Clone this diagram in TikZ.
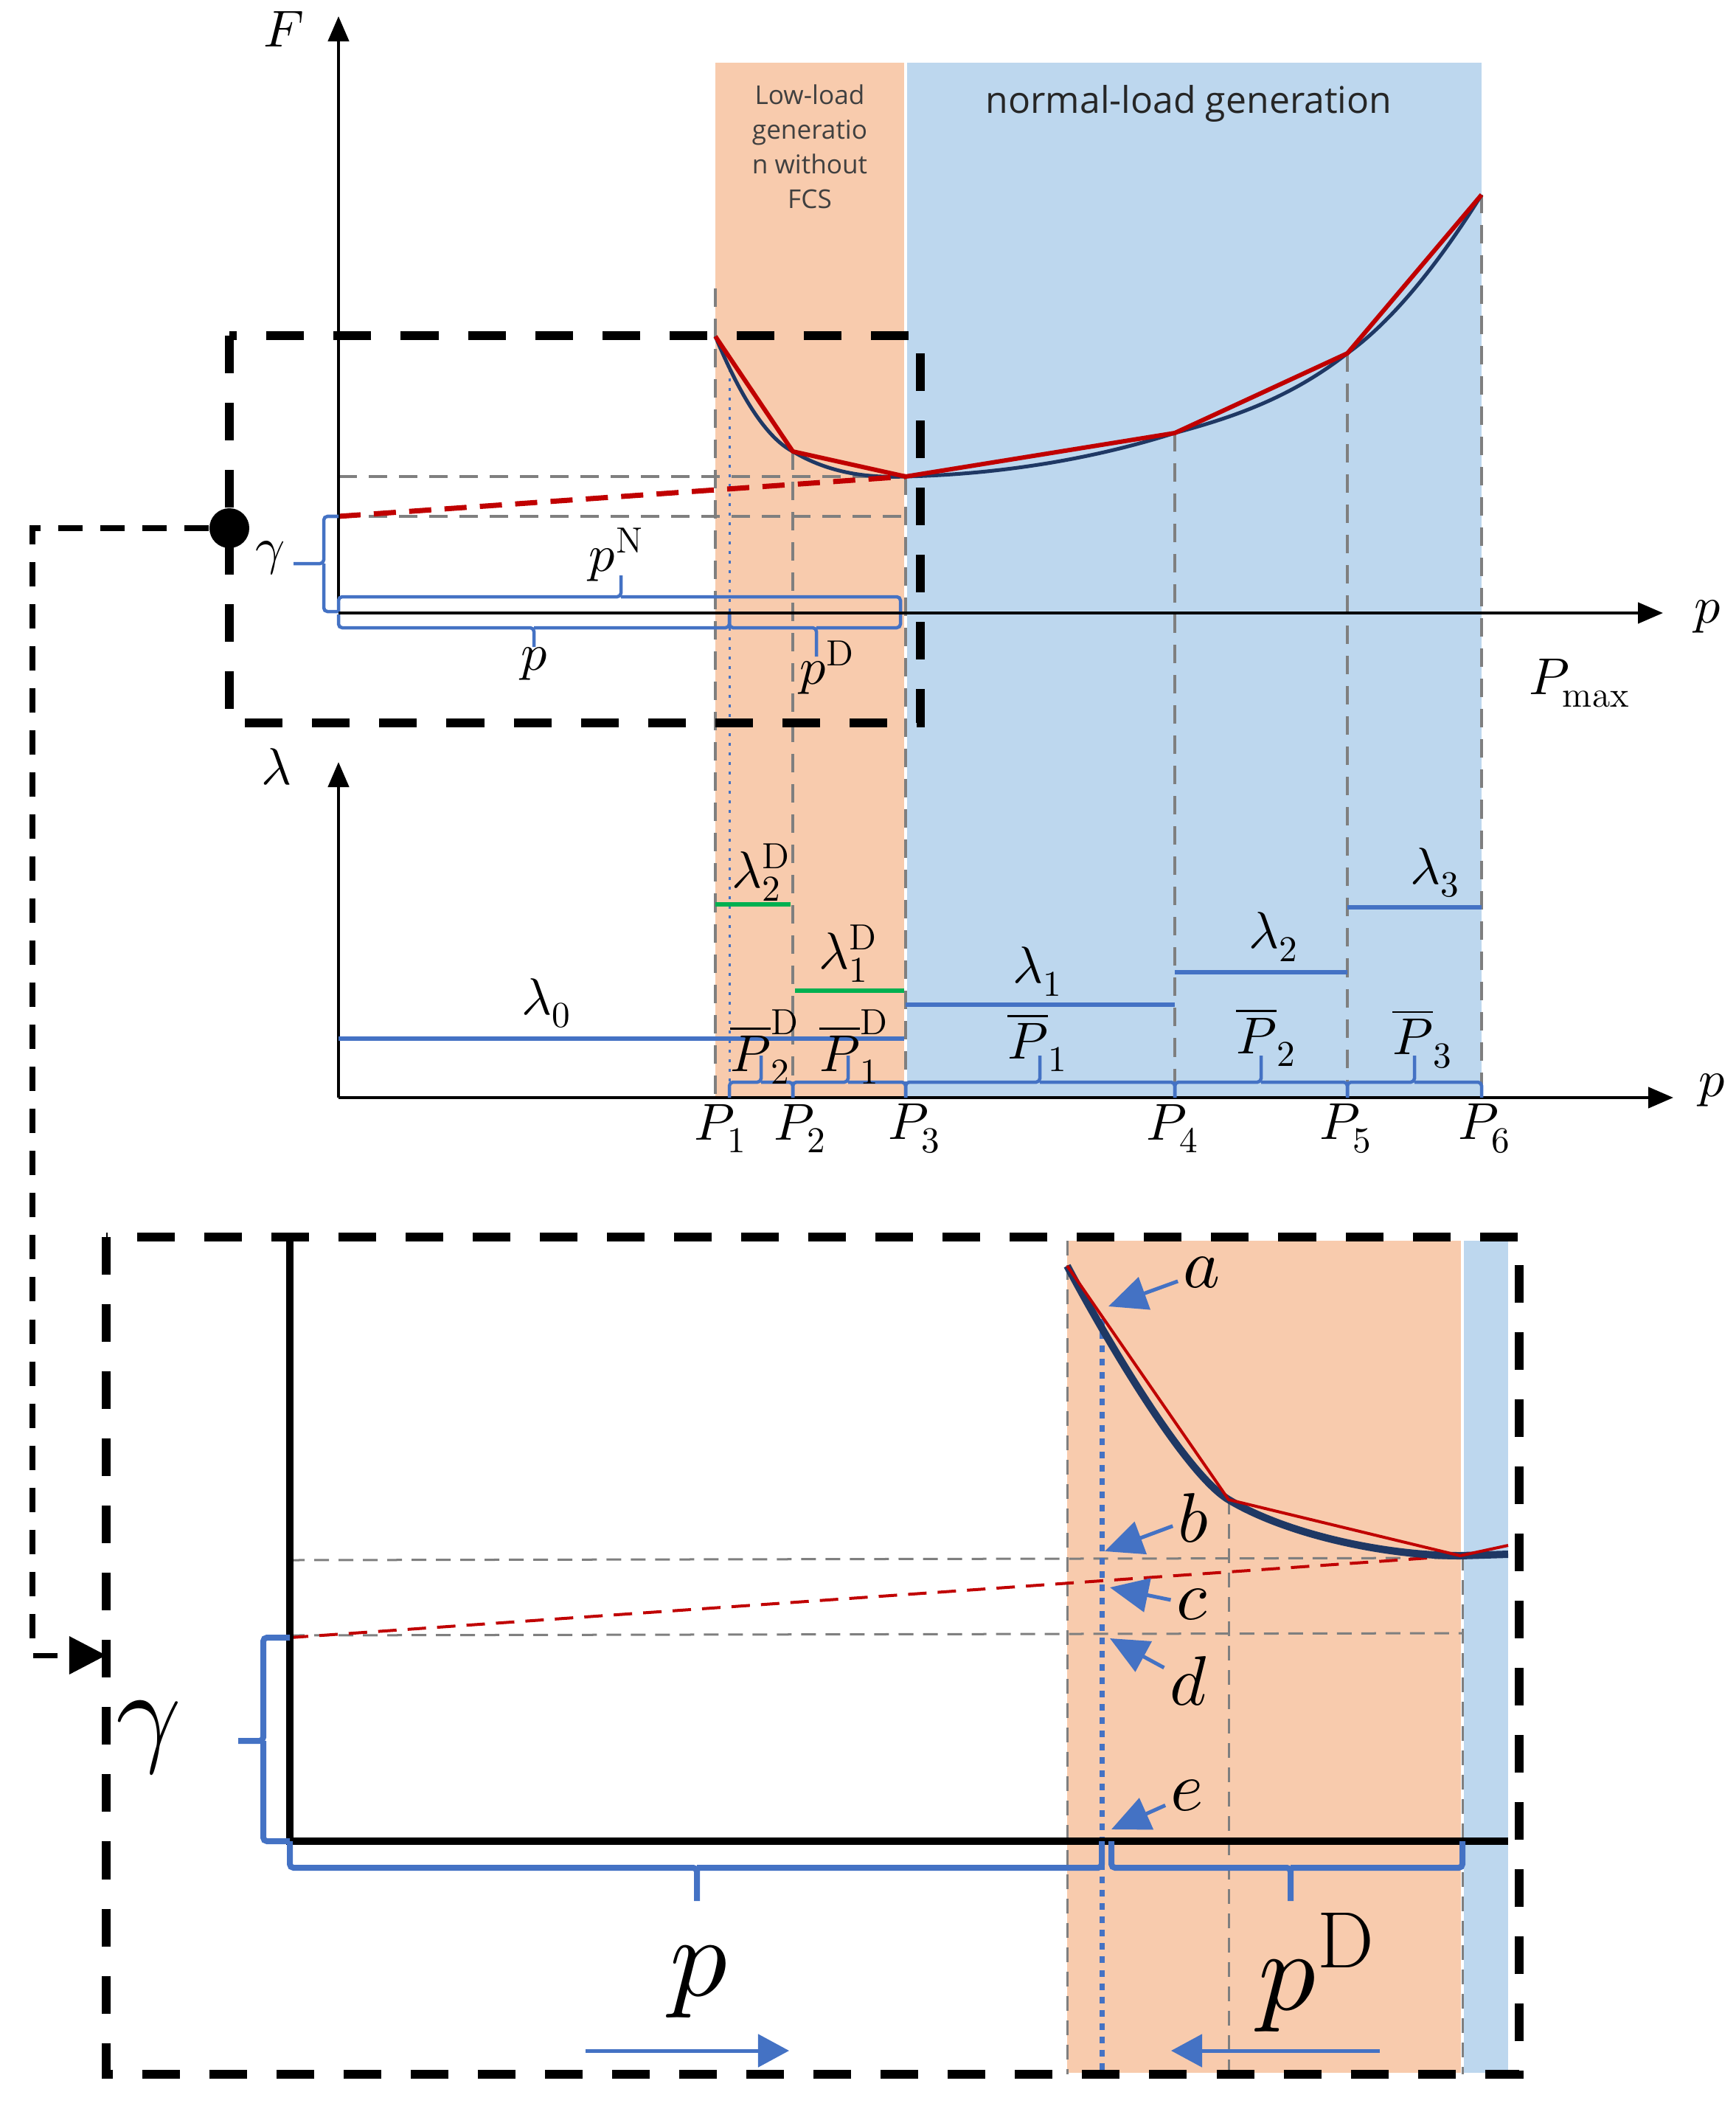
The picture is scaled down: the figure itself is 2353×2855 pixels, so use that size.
\documentclass[tikz,border=0pt]{standalone}
\usepackage{fontspec}
\usepackage{unicode-math}
\newfontfamily\regionfont{Open Sans}
\usetikzlibrary{arrows.meta,positioning}
\definecolor{lowload}{HTML}{F8CBAD}
\definecolor{normalload}{HTML}{BDD7EE}
\definecolor{markblue}{HTML}{4472C4}
\definecolor{chordred}{HTML}{C00000}
\definecolor{costnavy}{HTML}{1F3864}
\definecolor{dualgreen}{HTML}{00B050}
\definecolor{guidegray}{HTML}{7F7F7F}
\tikzset{
    axisline/.style={line width=0.045cm, -{Triangle[length=0.34cm,width=0.28cm]}},
    inaxis/.style={line width=0.1cm},
    guide/.style={guidegray, line width=0.045cm, dash pattern=on 0.25cm off 0.16cm},
    fineguide/.style={guidegray, line width=0.03cm, dash pattern=on 0.2cm off 0.13cm},
    zoomframe/.style={line width=0.12cm, dash pattern=on 0.51cm off 0.40cm},
    link/.style={line width=0.07cm, dash pattern=on 0.33cm off 0.24cm, -{Triangle[length=0.5cm,width=0.5cm]}},
    chord/.style={chordred, line width=0.06cm, line join=round},
    chorddash/.style={chordred, line width=0.07cm, dash pattern=on 0.3cm off 0.18cm},
    cost/.style={costnavy, line width=0.05cm},
    pmark/.style={markblue, line width=0.03cm, dash pattern=on 0.04cm off 0.09cm},
    price/.style={markblue, line width=0.06cm},
    dprice/.style={dualgreen, line width=0.06cm},
    brk/.style={markblue, line width=0.045cm, rounded corners=0.05cm},
    callout/.style={markblue, line width=0.05cm, -{Triangle[length=0.52cm,width=0.46cm]}},
    lbl/.style={inner sep=1pt, font=\fontsize{20}{23}\selectfont},
    ptlbl/.style={inner sep=2pt, font=\fontsize{27}{30}\selectfont},
    biglbl/.style={inner sep=1pt, font=\fontsize{44}{50}\selectfont},
    hub/.style={circle, fill, inner sep=0pt, minimum size=0.54cm}
}
\begin{document}
\begin{tikzpicture}[x=0.01cm,y=-0.01cm]
\useasboundingbox (0,0) rectangle (2353,2855);
% breakpoints of the cost curve
\coordinate (O1) at (459,831);
\coordinate (O2) at (459,1488);
\coordinate (G0) at (459,700);
\coordinate (K1) at (970,456);
\coordinate (K2) at (1075,612);
\coordinate (K3) at (1228,646);
\coordinate (K4) at (1593,587);
\coordinate (K5) at (1827,479);
\coordinate (K6) at (2009,264);
% operating regions
\fill[lowload] (970,85) rectangle (1226,1488);
\fill[normalload] (1230,85) rectangle (2009,1488);
\node[align=center, text=black!75, font=\regionfont\fontsize{10}{13.4}\selectfont] (lowtxt) at (1098,199) {Low-load\\generatio\\n without\\FCS};
\node[text=black!85, font=\regionfont\fontsize{14.2}{16}\selectfont] (normtxt) at (1612,141) {normal-load generation};
% guide lines
\draw[guide] (970,391) -- (K1 |- O2);
\draw[guide] (K2) -- (K2 |- O2);
\draw[guide] (K3) -- (K3 |- O2);
\draw[guide] (K4) -- (K4 |- O2);
\draw[guide] (K5) -- (K5 |- O2);
\draw[guide] (K6) -- (K6 |- O2);
\draw[guide] (O1 |- K3) -- (K3);
\draw[guide] (G0) -- (K3 |- G0);
\draw[pmark] (989,500) -- (989,1488);
% cost curve and its linearisation
\draw[cost] (K1) .. controls (1005,540) and (1040,594) .. (K2) .. controls (1125,642) and (1178,648) .. (K3) .. controls (1348,643) and (1473,625) .. (K4) .. controls (1671,566) and (1749,540) .. (K5) .. controls (1887,436) and (1949,360) .. (K6);
\draw[chord] (K1) -- (K2) -- (K3) -- (K4) -- (K5) -- (K6);
\draw[chorddash] (G0) -- (K3);
% F axes
\draw[axisline] (O1) -- (2255,831);
\draw[axisline] (O1) -- (459,22);
\node[lbl] (Flab) at (385,40) {$F$};
\node[lbl] (pax1) at (2316,836) {$p$};
\node[lbl] (pmax) at (2142,926) {$P_{\max}$};
% brackets of the top chart
\draw[brk] (459,829) |- (842,809) -- (842,780) (842,809) -| (1221,829);
\draw[brk] (459,833) |- (724,851) -- (724,877) (724,851) -| (989,833);
\draw[brk] (989,833) |- (1107,851) -- (1107,890) (1107,851) -| (1221,833);
\draw[brk] (459,700) -| (439,764) -- (398,764) (439,764) |- (459,829);
\node[lbl] (gam1) at (367,757) {$\gamma$};
\node[lbl] (pN) at (836,752) {$p^{\mathrm{N}}$};
\node[lbl] (p1) at (725,900) {$p$};
\node[lbl] (pD1) at (1122,905) {$p^{\mathrm{D}}$};
% lambda axes
\draw[axisline] (O2) -- (2269,1488);
\draw[axisline] (O2) -- (459,1033);
\node[lbl] (lamlab) at (375,1040) {$\lambda$};
\node[lbl] (pax2) at (2322,1478) {$p$};
% prices
\draw[price] (459,1408) -- (1226,1408);
\draw[dprice] (970,1226) -- (1072,1226);
\draw[dprice] (1078,1343) -- (1226,1343);
\draw[price] (1228,1362) -- (1593,1362);
\draw[price] (1593,1318) -- (1827,1318);
\draw[price] (1827,1230) -- (2009,1230);
\node[lbl] (lam0) at (741,1360) {$\lambda_0$};
\node[lbl] (lamD2) at (1032,1183) {$\lambda^{\mathrm{D}}_2$};
\node[lbl] (lamD1) at (1150,1293) {$\lambda^{\mathrm{D}}_1$};
\node[lbl] (lam1) at (1407,1317) {$\lambda_1$};
\node[lbl] (lam2) at (1727,1270) {$\lambda_2$};
\node[lbl] (lam3) at (1946,1183) {$\lambda_3$};
% segment brackets
\draw[brk] (989,1488) |- (1032,1467) -- (1032,1431) (1032,1467) -| (1075,1488);
\draw[brk] (1075,1488) |- (1150,1467) -- (1150,1431) (1150,1467) -| (1228,1488);
\draw[brk] (1228,1488) |- (1410,1467) -- (1410,1431) (1410,1467) -| (1593,1488);
\draw[brk] (1593,1488) |- (1710,1467) -- (1710,1431) (1710,1467) -| (1827,1488);
\draw[brk] (1827,1488) |- (1918,1467) -- (1918,1431) (1918,1467) -| (2009,1488);
\node[lbl] (PbD2) at (1037,1419) {$\overline{P}^{\mathrm{D}}_2$};
\node[lbl] (PbD1) at (1158,1419) {$\overline{P}^{\mathrm{D}}_1$};
\node[lbl] (Pb1) at (1407,1413) {$\overline{P}_1$};
\node[lbl] (Pb2) at (1717,1406) {$\overline{P}_2$};
\node[lbl] (Pb3) at (1929,1408) {$\overline{P}_3$};
\node[lbl] (P1) at (977,1530) {$P_1$};
\node[lbl] (P2) at (1085,1530) {$P_2$};
\node[lbl] (P3) at (1240,1530) {$P_3$};
\node[lbl] (P4) at (1590,1530) {$P_4$};
\node[lbl] (P5) at (1825,1530) {$P_5$};
\node[lbl] (P6) at (2013,1530) {$P_6$};
% zoomed part
\draw[zoomframe] (311,455) rectangle (1248,980);
\node[hub] (hub) at (311,716) {};
% zoom view
\coordinate (Q0) at (393,2496);
\coordinate (GI) at (393,2220);
\coordinate (A) at (1447,1716);
\coordinate (B) at (1666,2033);
\coordinate (C) at (1980,2109);
\fill[lowload] (1447,1682) rectangle (1981,2810);
\fill[normalload] (1985,1682) rectangle (2045,2810);
\draw[fineguide] (1447,1682) -- (1447,2812);
\draw[fineguide] (B) -- (1666,2812);
\draw[fineguide] (1983,2109) -- (1983,2812);
\draw[fineguide] (393,2115) -- (1983,2112);
\draw[fineguide] (393,2217) -- (1983,2214);
\draw[chordred, line width=0.04cm, dash pattern=on 0.25cm off 0.15cm] (GI) -- (C);
\draw[markblue, line width=0.07cm, dash pattern=on 0.09cm off 0.09cm] (1494,1788) -- (1494,2812);
\draw[costnavy, line width=0.1cm] (A) .. controls (1497,1810) and (1606,1997) .. (B) .. controls (1746,2081) and (1880,2109) .. (C) -- (2045,2107);
\draw[chordred, line width=0.04cm, line join=round] (A) -- (B) -- (C) -- (2045,2095);
\draw[inaxis] (393,1680) -- (Q0) -- (2045,2496);
\draw[brk, line width=0.08cm] (GI) -| (357,2360) -- (323,2360) (357,2360) |- (Q0);
\draw[brk, line width=0.08cm] (Q0) |- (945,2532) -- (945,2577) (945,2532) -| (1494,2496);
\draw[brk, line width=0.08cm] (1507,2496) |- (1750,2532) -- (1750,2577) (1750,2532) -| (1983,2496);
\node[biglbl] (gam2) at (202,2356) {$\gamma$};
\node[biglbl] (p2) at (949,2686) {$p$};
\node[biglbl] (pD2) at (1786,2674) {$p^{\mathrm{D}}$};
% points a to e
\coordinate (pa) at (1503,1771);
\coordinate (pb) at (1498,2103);
\coordinate (pc) at (1505,2152);
\coordinate (pd) at (1505,2221);
\coordinate (pe) at (1507,2480);
\node[ptlbl] (la) at (1630,1725) {$a$};
\node[ptlbl] (lb) at (1619,2058) {$b$};
\node[ptlbl] (lc) at (1617,2175) {$c$};
\node[ptlbl] (ld) at (1612,2279) {$d$};
\node[ptlbl] (le) at (1610,2434) {$e$};
\draw[callout] (la) -- (pa);
\draw[callout] (lb) -- (pb);
\draw[callout] (lc) -- (pc);
\draw[callout] (ld) -- (pd);
\draw[callout] (le) -- (pe);
% search directions
\coordinate (fw0) at (794,2780);
\coordinate (fw1) at (1070,2780);
\coordinate (bw0) at (1871,2780);
\coordinate (bw1) at (1588,2780);
\draw[markblue, line width=0.05cm, -{Triangle[length=0.42cm,width=0.44cm]}] (fw0) -- (fw1);
\draw[markblue, line width=0.05cm, -{Triangle[length=0.42cm,width=0.44cm]}] (bw0) -- (bw1);
\draw[zoomframe] (144,1677) rectangle (2060,2812);
% link to the zoom view
\coordinate (lead) at (44,2244);
\coordinate (inlet) at (144,2244);
\draw[link] (hub) -| (lead) -- (inlet);
\end{tikzpicture}
\end{document}
